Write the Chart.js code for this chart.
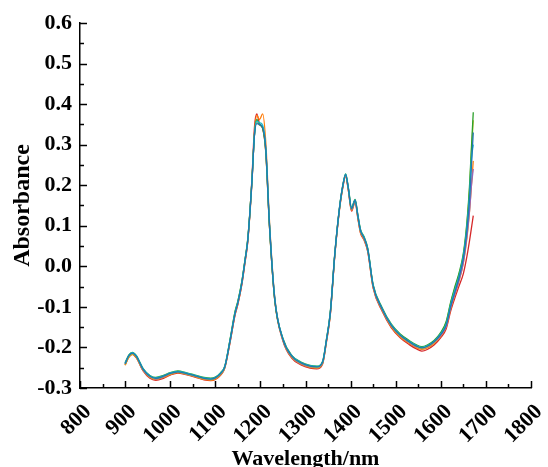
<!DOCTYPE html>
<html>
<head>
<meta charset="utf-8">
<script src="https://cdn.jsdelivr.net/npm/chart.js@4.4.1/dist/chart.umd.min.js"></script>
<style>
  html, body { margin: 0; padding: 0; background: #fff; }
  #wrap { width: 548px; height: 467px; position: relative; }
</style>
</head>
<body>
<div id="wrap"><canvas id="chart"></canvas></div>
<script>
// wavelength grid (nm) shared by every spectrum
const wavelengths = [900, 908, 916, 925, 940, 955, 968, 985, 1000, 1017, 1035, 1055, 1075, 1090, 1100, 1112, 1121, 1133, 1144, 1150, 1159, 1166, 1172, 1181, 1187, 1192, 1198, 1205, 1212, 1220, 1232, 1250, 1270, 1290, 1310, 1325, 1338, 1346, 1355, 1365, 1375, 1383, 1389, 1395, 1402, 1410, 1416, 1422, 1430, 1438, 1450, 1470, 1490, 1510, 1530, 1545, 1558, 1570, 1585, 1600, 1612, 1622, 1630, 1640, 1650, 1658, 1664, 1668, 1672];

// absorbance spectra
const blueSpectrum = [-0.240, -0.221, -0.214, -0.222, -0.254, -0.271, -0.276, -0.271, -0.264, -0.260, -0.264, -0.270, -0.276, -0.278, -0.275, -0.264, -0.248, -0.182, -0.115, -0.090, -0.040, 0.015, 0.065, 0.205, 0.325, 0.352, 0.350, 0.342, 0.288, 0.105, -0.082, -0.180, -0.222, -0.238, -0.246, -0.248, -0.236, -0.185, -0.115, 0.030, 0.140, 0.200, 0.226, 0.192, 0.142, 0.163, 0.125, 0.088, 0.070, 0.042, -0.048, -0.105, -0.145, -0.170, -0.186, -0.196, -0.201, -0.197, -0.186, -0.168, -0.145, -0.098, -0.068, -0.030, 0.020, 0.090, 0.170, 0.250, 0.330];
const cyanSpectrum = [-0.239, -0.220, -0.213, -0.221, -0.253, -0.270, -0.275, -0.270, -0.263, -0.259, -0.263, -0.269, -0.275, -0.277, -0.274, -0.263, -0.247, -0.180, -0.113, -0.088, -0.038, 0.016, 0.066, 0.206, 0.326, 0.358, 0.354, 0.348, 0.290, 0.108, -0.080, -0.179, -0.221, -0.237, -0.245, -0.247, -0.235, -0.184, -0.114, 0.031, 0.141, 0.201, 0.227, 0.193, 0.143, 0.164, 0.126, 0.089, 0.071, 0.043, -0.047, -0.104, -0.144, -0.169, -0.185, -0.195, -0.200, -0.196, -0.185, -0.166, -0.142, -0.094, -0.063, -0.026, 0.025, 0.098, 0.180, 0.265, 0.300];
const greenSpectrum = [-0.238, -0.219, -0.212, -0.220, -0.252, -0.269, -0.274, -0.269, -0.262, -0.258, -0.262, -0.268, -0.274, -0.276, -0.273, -0.262, -0.246, -0.178, -0.110, -0.086, -0.036, 0.018, 0.068, 0.208, 0.328, 0.362, 0.350, 0.340, 0.282, 0.100, -0.085, -0.178, -0.220, -0.236, -0.244, -0.246, -0.234, -0.183, -0.112, 0.033, 0.142, 0.202, 0.228, 0.195, 0.145, 0.165, 0.128, 0.091, 0.073, 0.045, -0.045, -0.102, -0.142, -0.167, -0.183, -0.193, -0.198, -0.194, -0.183, -0.163, -0.136, -0.088, -0.055, -0.018, 0.032, 0.110, 0.205, 0.295, 0.380];
const oliveSpectrum = [-0.242, -0.223, -0.216, -0.224, -0.255, -0.272, -0.277, -0.272, -0.265, -0.261, -0.265, -0.271, -0.277, -0.279, -0.276, -0.265, -0.249, -0.180, -0.112, -0.087, -0.037, 0.017, 0.067, 0.207, 0.327, 0.360, 0.349, 0.341, 0.284, 0.102, -0.084, -0.181, -0.223, -0.239, -0.247, -0.249, -0.237, -0.186, -0.116, 0.029, 0.139, 0.199, 0.225, 0.191, 0.141, 0.162, 0.124, 0.087, 0.069, 0.041, -0.049, -0.106, -0.146, -0.171, -0.187, -0.197, -0.202, -0.198, -0.187, -0.166, -0.138, -0.090, -0.058, -0.022, 0.028, 0.105, 0.195, 0.285, 0.360];
const purpleSpectrum = [-0.241, -0.222, -0.215, -0.223, -0.256, -0.273, -0.278, -0.273, -0.265, -0.261, -0.265, -0.271, -0.277, -0.279, -0.276, -0.265, -0.249, -0.183, -0.116, -0.091, -0.041, 0.014, 0.064, 0.203, 0.328, 0.360, 0.348, 0.343, 0.286, 0.104, -0.083, -0.182, -0.224, -0.240, -0.248, -0.250, -0.238, -0.187, -0.117, 0.029, 0.139, 0.199, 0.225, 0.190, 0.140, 0.161, 0.123, 0.086, 0.068, 0.040, -0.050, -0.107, -0.147, -0.172, -0.188, -0.198, -0.203, -0.199, -0.188, -0.170, -0.148, -0.101, -0.072, -0.036, 0.010, 0.075, 0.140, 0.200, 0.240];
const orangeSpectrum = [-0.244, -0.225, -0.217, -0.225, -0.257, -0.274, -0.279, -0.274, -0.267, -0.262, -0.266, -0.272, -0.279, -0.281, -0.278, -0.267, -0.250, -0.185, -0.118, -0.093, -0.043, 0.012, 0.062, 0.200, 0.330, 0.372, 0.362, 0.376, 0.305, 0.115, -0.078, -0.182, -0.225, -0.241, -0.249, -0.251, -0.239, -0.188, -0.118, 0.028, 0.138, 0.198, 0.224, 0.188, 0.138, 0.160, 0.120, 0.083, 0.066, 0.038, -0.052, -0.109, -0.149, -0.174, -0.190, -0.200, -0.205, -0.201, -0.190, -0.172, -0.149, -0.104, -0.074, -0.038, 0.008, 0.070, 0.140, 0.200, 0.260];
const redSpectrum = [-0.243, -0.224, -0.217, -0.226, -0.258, -0.276, -0.281, -0.276, -0.268, -0.263, -0.267, -0.273, -0.280, -0.282, -0.279, -0.268, -0.251, -0.186, -0.119, -0.094, -0.044, 0.010, 0.060, 0.212, 0.345, 0.376, 0.352, 0.340, 0.280, 0.100, -0.086, -0.184, -0.227, -0.243, -0.251, -0.253, -0.241, -0.190, -0.120, 0.026, 0.136, 0.196, 0.222, 0.187, 0.136, 0.158, 0.119, 0.082, 0.064, 0.036, -0.054, -0.111, -0.151, -0.176, -0.193, -0.203, -0.209, -0.205, -0.194, -0.176, -0.154, -0.110, -0.082, -0.050, -0.018, 0.025, 0.065, 0.095, 0.125];

// first entry is drawn on top
const spectra = [
  { values: blueSpectrum, color: "#1f77b4" },
  { values: cyanSpectrum, color: "#17becf" },
  { values: greenSpectrum, color: "#2ca02c" },
  { values: oliveSpectrum, color: "#bcbd22" },
  { values: purpleSpectrum, color: "#9467bd" },
  { values: orangeSpectrum, color: "#ff7f0e" },
  { values: redSpectrum, color: "#d62728" },
];

const fontFamily = "'Liberation Serif', 'Times New Roman', serif";

// inward major/minor tick marks like the original plot
const innerTicks = {
  id: "innerTicks",
  afterDraw(chart) {
    const { ctx, chartArea, scales } = chart;
    ctx.save();
    ctx.strokeStyle = "#000";
    ctx.lineWidth = 1.5;
    for (let v = 800; v <= 1800; v += 50) {
      const px = Math.round(scales.x.getPixelForValue(v)) + 0.5;
      const len = v % 100 === 0 ? 7 : 4;
      ctx.beginPath();
      ctx.moveTo(px, chartArea.bottom);
      ctx.lineTo(px, chartArea.bottom - len);
      ctx.stroke();
    }
    for (let i = -6; i <= 12; i++) {
      const py = Math.round(scales.y.getPixelForValue(i * 0.05)) + 0.5;
      const len = i % 2 === 0 ? 7 : 4;
      ctx.beginPath();
      ctx.moveTo(chartArea.left, py);
      ctx.lineTo(chartArea.left + len, py);
      ctx.stroke();
    }
    ctx.restore();
  },
};

new Chart(document.getElementById("chart"), {
  type: "line",
  data: {
    datasets: spectra.map((s) => ({
      data: wavelengths.map((w, i) => ({ x: w, y: s.values[i] })),
      borderColor: s.color,
      borderWidth: 1.3,
      pointRadius: 0,
      fill: false,
      cubicInterpolationMode: "monotone",
    })),
  },
  options: {
    responsive: true,
    maintainAspectRatio: false,
    animation: false,
    layout: { padding: { top: 23, right: 17, left: 0, bottom: 0 } },
    plugins: {
      legend: { display: false },
      tooltip: { enabled: false },
    },
    scales: {
      x: {
        type: "linear",
        min: 800,
        max: 1800,
        grid: { display: false, drawTicks: false },
        border: { display: true, color: "#000", width: 1.5 },
        ticks: {
          stepSize: 100,
          minRotation: 45,
          maxRotation: 45,
          padding: 11,
          labelOffset: 8,
          color: "#000",
          font: { family: fontFamily, size: 22, weight: "bold" },
          callback: (v) => String(v),
        },
        title: {
          display: true,
          text: "Wavelength/nm",
          color: "#000",
          font: { family: fontFamily, size: 22, weight: "bold" },
          padding: { top: 0, bottom: -6 },
        },
        afterFit(scale) {
          scale.height = 79;
          scale.paddingLeft = 0;
          scale.paddingRight = 0;
        },
      },
      y: {
        min: -0.3,
        max: 0.6,
        grid: { display: false, drawTicks: false },
        border: { display: true, color: "#000", width: 1.5 },
        ticks: {
          stepSize: 0.1,
          padding: 8,
          color: "#000",
          font: { family: fontFamily, size: 22, weight: "bold" },
          callback: (v) => v.toFixed(1),
        },
        title: {
          display: true,
          text: "Absorbance",
          color: "#000",
          font: { family: fontFamily, size: 24, weight: "bold" },
          padding: { top: 8, bottom: 0 },
        },
        afterFit(scale) {
          scale.width = 80;
        },
      },
    },
  },
  plugins: [innerTicks],
});
</script>
</body>
</html>
